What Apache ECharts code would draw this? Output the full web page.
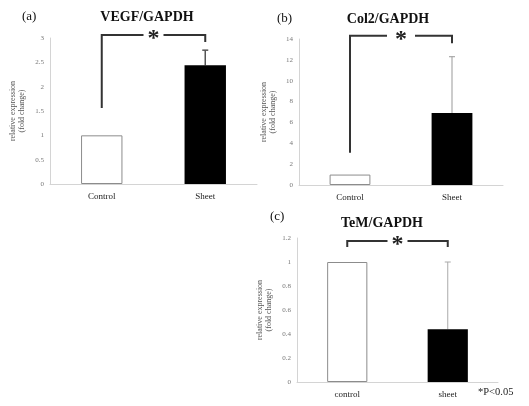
<!DOCTYPE html>
<html>
<head>
<meta charset="utf-8">
<script src="https://cdn.jsdelivr.net/npm/echarts@6/dist/echarts.min.js"></script>
<style>html,body{margin:0;padding:0;background:#fff;}#c{width:529px;height:406px;}</style>
</head>
<body>
<div id="c"></div>
<script>
// ---- data ----
const categoriesA = ['Control', 'Sheet'];
const valuesA = [1, 2.44];
const errorTopA = [null, 2.75];
const bracketA = [1.56, 3.06, 2.92]; // left bottom, top, right bottom

const categoriesB = ['Control', 'Sheet'];
const valuesB = [1, 6.9];
const errorTopB = [null, 12.3];
const bracketB = [3.1, 14.3, 13.6];

const categoriesC = ['control', 'sheet'];
const valuesC = [1, 0.44];
const errorTopC = [null, 1.0];
const bracketC = [1.125, 1.175, 1.125];

const yTicksA = {min: 0, max: 3, interval: 0.5};
const yTicksB = {min: 0, max: 14, interval: 2};
const yTicksC = {min: 0, max: 1.2, interval: 0.2};

const SERIF = '"Liberation Serif", "Times New Roman", serif';

const chart = echarts.init(document.getElementById('c'), null, {renderer: 'canvas'});

const grids = [
  {left: 50, right: 272, top: 38, bottom: 222},
  {left: 299, right: 26, top: 39, bottom: 221},
  {left: 297, right: 31, top: 238, bottom: 24}
];

function xAxis(i, cats) {
  return {
    type: 'category', gridIndex: i, data: cats,
    axisLine: {lineStyle: {color: '#d4d4d4', width: 1}},
    axisTick: {show: false},
    axisLabel: {color: '#222', fontFamily: SERIF, fontSize: 9, margin: 8}
  };
}
function yAxis(i, t, nameGap) {
  return {
    type: 'value', gridIndex: i, min: t.min, max: t.max, interval: t.interval,
    name: 'relative expression\n(fold change)', nameLocation: 'middle', nameRotate: 90,
    nameGap: nameGap,
    nameTextStyle: {color: '#555', fontFamily: SERIF, fontSize: 8, lineHeight: 9},
    axisLine: {show: true, lineStyle: {color: '#d4d4d4', width: 1}},
    axisTick: {show: false},
    splitLine: {show: false},
    axisLabel: {color: '#777', fontFamily: SERIF, fontSize: 7, margin: 6}
  };
}

function barSeries(i, vals) {
  return {
    type: 'bar', xAxisIndex: i, yAxisIndex: i, barWidth: '40%',
    data: vals.map((v, k) => ({
      value: v,
      itemStyle: k === 0 ? {color: '#fff', borderColor: '#8c8c8c', borderWidth: 1} : {color: '#000'}
    })),
    silent: true, animation: false
  };
}

function errSeries(i, vals, tops, color, w) {
  const data = [];
  tops.forEach((t, k) => { if (t != null) data.push([k, vals[k], t]); });
  return {
    type: 'custom', xAxisIndex: i, yAxisIndex: i, clip: false, silent: true, animation: false,
    z: 1,
    data: data,
    renderItem: function (params, api) {
      const p0 = api.coord([api.value(0), api.value(1)]);
      const p1 = api.coord([api.value(0), api.value(2)]);
      return {
        type: 'group',
        children: [
          {type: 'line', shape: {x1: p0[0], y1: p0[1], x2: p1[0], y2: p1[1]}, style: {stroke: color, lineWidth: w}},
          {type: 'line', shape: {x1: p1[0] - 3, y1: p1[1], x2: p1[0] + 3, y2: p1[1]}, style: {stroke: color, lineWidth: w}}
        ]
      };
    }
  };
}

function bracketSeries(i, br, gap) {
  return {
    type: 'custom', xAxisIndex: i, yAxisIndex: i, clip: false, silent: true, animation: false,
    z: 5,
    data: [[0, 1, br[0], br[1], br[2]]],
    renderItem: function (params, api) {
      const a = api.coord([api.value(0), api.value(2)]);
      const aTop = api.coord([api.value(0), api.value(3)]);
      const b = api.coord([api.value(1), api.value(4)]);
      const bTop = api.coord([api.value(1), api.value(3)]);
      const mid = (aTop[0] + bTop[0]) / 2;
      const y = aTop[1];
      const st = {stroke: '#333', lineWidth: 2, fill: null};
      return {
        type: 'group',
        children: [
          {type: 'polyline', shape: {points: [[a[0], a[1]], [aTop[0], y], [mid - gap, y]]}, style: st},
          {type: 'polyline', shape: {points: [[mid + gap, y], [bTop[0], y], [b[0], b[1]]]}, style: st},
          {type: 'text', x: mid, y: y + 4, style: {text: '*', fill: '#222', font: 'bold 24px ' + SERIF, textAlign: 'center', textVerticalAlign: 'middle'}}
        ]
      };
    }
  };
}

function txt(x, y, s, size, bold, align, color) {
  return {type: 'text', x: x, y: y, silent: true,
    style: {text: s, fill: color || '#111', font: (bold ? 'bold ' : '') + size + 'px ' + SERIF,
      textAlign: align || 'center', textVerticalAlign: 'middle'}};
}

chart.setOption({
  animation: false,
  grid: grids,
  xAxis: [xAxis(0, categoriesA), xAxis(1, categoriesB), xAxis(2, categoriesC)],
  yAxis: [yAxis(0, yTicksA, 24), yAxis(1, yTicksB, 22), yAxis(2, yTicksC, 24)],
  series: [
    barSeries(0, valuesA), errSeries(0, valuesA, errorTopA, '#555', 1.5), bracketSeries(0, bracketA, 10),
    barSeries(1, valuesB), errSeries(1, valuesB, errorTopB, '#999', 1), bracketSeries(1, bracketB, 14),
    barSeries(2, valuesC), errSeries(2, valuesC, errorTopC, '#aaa', 1), bracketSeries(2, bracketC, 10)
  ],
  graphic: [
    txt(147, 17, 'VEGF/GAPDH', 14, true),
    txt(22, 17, '(a)', 13, false, 'left'),
    txt(388, 19, 'Col2/GAPDH', 14, true),
    txt(277, 19, '(b)', 13, false, 'left'),
    txt(382, 223, 'TeM/GAPDH', 14, true),
    txt(270, 217, '(c)', 13, false, 'left'),
    txt(478, 392, '*P<0.05', 10.5, false, 'left', '#222')
  ]
});
</script>
</body>
</html>
